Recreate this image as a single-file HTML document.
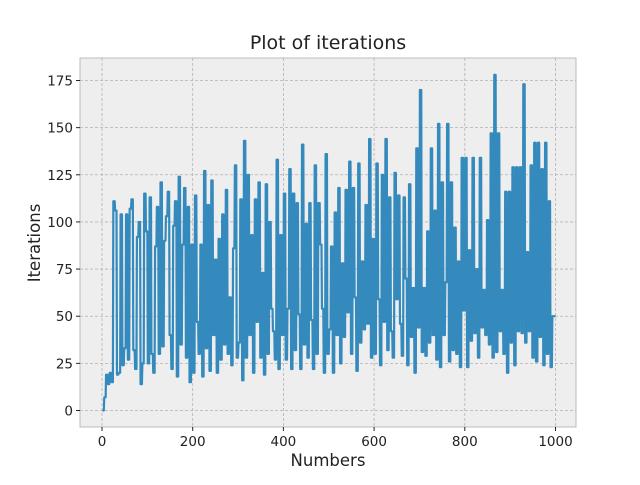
<!DOCTYPE html>
<html><head><meta charset="utf-8"><style>
body{margin:0;background:#fff;}
svg text{font-family:"DejaVu Sans","Liberation Sans",sans-serif;fill:#222;}
</style></head><body>
<svg id="chart" width="640" height="480" xmlns="http://www.w3.org/2000/svg">
<rect x="80" y="58" width="496" height="369" fill="#eeeeee" stroke="#bcbcbc" stroke-width="1"/>
<g id="grid"></g>
<g id="ticks"></g>
<path id="line" fill="none" stroke="#348ABD" stroke-width="2.2" stroke-linejoin="round"/>
<text x="328" y="49" font-size="19" text-anchor="middle">Plot of iterations</text>
<text x="328" y="466" font-size="16.5" text-anchor="middle">Numbers</text>
<text x="40" y="243" font-size="16.5" text-anchor="middle" transform="rotate(-90 40 243)">Iterations</text>
</svg>
<script>
const xTicks=[0,200,400,600,800,1000];
const yTicks=[0,25,50,75,100,125,150,175];
const xStart=1, xStep=4;
const iterations=[
0,7,19,14,20,15,111,106,19,20,104,24,33,104,27,107,112,32,22,92,100,14,25,115,95,
25,113,30,20,87,108,30,121,34,90,103,116,40,22,98,111,18,124,35,88,118,28,108,15,88,
20,114,47,30,88,18,127,33,109,21,122,40,80,20,91,27,104,35,117,30,60,24,86,130,28,
36,112,16,143,28,125,40,93,20,112,47,121,28,73,19,120,30,100,54,42,27,133,22,93,40,
115,27,54,128,22,115,32,110,51,22,141,35,99,28,110,48,22,130,30,110,88,54,20,136,30,
43,87,20,105,40,118,25,78,39,117,52,132,30,118,60,21,131,36,79,43,109,46,144,28,91,
30,131,59,24,125,47,144,32,113,42,28,126,59,114,46,29,113,70,24,120,39,65,20,139,44,
170,31,65,29,95,36,139,40,106,27,152,23,121,40,68,152,26,121,32,97,30,79,23,134,53,
134,23,85,37,134,41,75,28,134,44,64,40,101,35,147,28,178,31,147,42,64,30,116,20,116,
36,129,24,129,42,129,41,173,36,84,42,130,28,142,26,142,39,128,24,142,30,111,23,50,50];
const X=v=>102+v*(555.5-102)/1000;
const Y=v=>410.5-v*(410.5-80.5)/175;
const NS="http://www.w3.org/2000/svg";
const grid=document.getElementById('grid'),ticks=document.getElementById('ticks');
function mk(tag,attrs,parent){const e=document.createElementNS(NS,tag);for(const k in attrs)e.setAttribute(k,attrs[k]);parent.appendChild(e);return e;}
xTicks.forEach(t=>{
 const g=mk('line',{x1:X(t),x2:X(t),y1:58,y2:427,stroke:'#b2b2b2','stroke-dasharray':'3,2','stroke-width':0.8},grid);
 
 
 mk('line',{x1:X(t),x2:X(t),y1:427,y2:431,stroke:'#222'},ticks);
 const tx=mk('text',{x:X(t),y:446,'font-size':13.5,'text-anchor':'middle'},ticks);tx.textContent=t;
 
 
});
yTicks.forEach(t=>{
 const g=mk('line',{x1:80,x2:576,y1:Y(t),y2:Y(t),stroke:'#b2b2b2','stroke-dasharray':'3,2','stroke-width':0.8},grid);
 
 
 mk('line',{x1:76,x2:80,y1:Y(t),y2:Y(t),stroke:'#222'},ticks);
 const tx=mk('text',{x:73,y:Y(t)+5,'font-size':13.5,'text-anchor':'end'},ticks);tx.textContent=t;
 
 
});
let d='';
iterations.forEach((v,i)=>{
 const x0=X(xStart+i*xStep), x1=X(xStart+(i+1)*xStep-1);
 d+=(i?'L':'M')+x0.toFixed(2)+','+Y(v).toFixed(2)+'L'+x1.toFixed(2)+','+Y(v).toFixed(2);
});
document.getElementById('line').setAttribute('d',d);
</script>
</body></html>
